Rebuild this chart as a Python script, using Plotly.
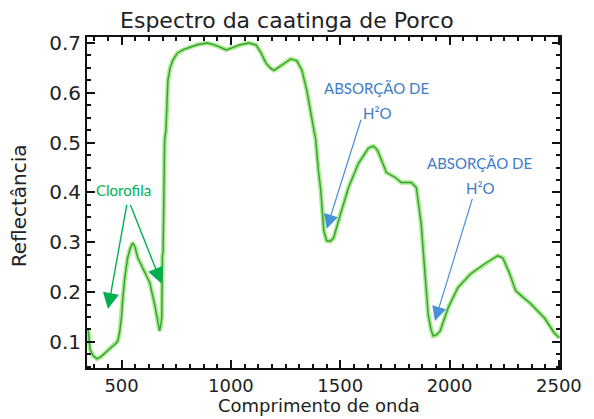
import plotly.graph_objects as go

# Spectrum data (wavelength nm, reflectance)
wavelength = [347, 356, 370, 388, 405, 424, 450, 475, 483, 492, 500, 506, 515, 528, 540, 551,
              562, 574, 597, 615, 629, 651, 665, 674, 680, 684, 687, 690, 697, 703, 712, 722,
              734, 756, 785, 815, 850, 892, 920, 947, 979, 1005, 1038, 1060, 1083, 1115, 1138,
              1160, 1180, 1197, 1215, 1234, 1274, 1302, 1325, 1347, 1370, 1388, 1400, 1411,
              1425, 1438, 1455, 1470, 1502, 1538, 1583, 1629, 1652, 1670, 1684, 1711, 1752,
              1779, 1825, 1848, 1870, 1888, 1902, 1915, 1925, 1940, 1957, 1993, 2038, 2097,
              2161, 2220, 2243, 2275, 2302, 2335, 2370, 2434, 2479, 2502]
reflectance = [0.126, 0.085, 0.072, 0.066, 0.070, 0.078, 0.088, 0.097, 0.102, 0.122, 0.150,
               0.189, 0.229, 0.269, 0.288, 0.299, 0.290, 0.269, 0.249, 0.232, 0.219, 0.176,
               0.140, 0.122, 0.135, 0.150, 0.273, 0.280, 0.505, 0.525, 0.625, 0.650, 0.665,
               0.680, 0.687, 0.692, 0.697, 0.700, 0.697, 0.692, 0.686, 0.690, 0.696, 0.698,
               0.700, 0.696, 0.680, 0.660, 0.650, 0.645, 0.650, 0.656, 0.668, 0.664, 0.645,
               0.605, 0.545, 0.505, 0.445, 0.404, 0.323, 0.303, 0.302, 0.309, 0.358, 0.410,
               0.458, 0.489, 0.493, 0.485, 0.470, 0.440, 0.430, 0.420, 0.420, 0.410, 0.338,
               0.237, 0.156, 0.125, 0.112, 0.114, 0.122, 0.168, 0.209, 0.237, 0.257, 0.273,
               0.269, 0.237, 0.203, 0.190, 0.177, 0.148, 0.118, 0.108]

x_ticks = [500, 1000, 1500, 2000, 2500]
y_ticks = [0.1, 0.2, 0.3, 0.4, 0.5, 0.6, 0.7]

title_text = "Espectro da caatinga de Porco"
x_title = "Comprimento de onda"
y_title = "Reflectância"

green_txt = "#00B050"
blue_txt = "#3D7CC9"
blue_arrow = "#4A8FDB"
ink = "#222222"

fig = go.Figure()
fig.add_trace(go.Scatter(x=wavelength, y=reflectance, mode="lines",
                         line=dict(color="#A6EC8C", width=4.5), hoverinfo="skip",
                         showlegend=False))
fig.add_trace(go.Scatter(x=wavelength, y=reflectance, mode="lines",
                         line=dict(color="#3C9E38", width=1.4), showlegend=False))

axis_common = dict(showgrid=False, zeroline=False, showline=True, linecolor="#111111",
                   linewidth=2, mirror="ticks", ticks="inside", ticklen=8, tickwidth=2,
                   tickcolor="#111111")

# page body has an 8px default margin, so the figure is sized to fit the window
fig.update_layout(
    width=586, height=411,
    margin=dict(l=79, r=31, t=29, b=51),
    paper_bgcolor="white", plot_bgcolor="white",
    title=dict(text=title_text, x=0.476, xanchor="center", y=0.970, yanchor="middle",
               font=dict(family="DejaVu Sans", size=22, color=ink)),
    xaxis=dict(range=[342, 2505], tickvals=x_ticks,
               tickfont=dict(family="DejaVu Sans", size=18, color=ink),
               minor=dict(dtick=62.5, tick0=0, ticks="inside", ticklen=4, tickwidth=1.5,
                          tickcolor="#111111"),
               **axis_common),
    yaxis=dict(range=[0.0477, 0.712], tickvals=y_ticks, tickformat=".1f",
               tickfont=dict(family="DejaVu Sans", size=20, color=ink),
               minor=dict(dtick=0.025, tick0=0, ticks="inside", ticklen=4, tickwidth=1.5,
                          tickcolor="#111111"),
               **axis_common),
)

ann_font_g = dict(family="Lato", size=15, color=green_txt)
ann_font_b = dict(family="Lato", size=15, color=blue_txt)

annotations = [
    dict(x=0.49, y=-0.113, xref="paper", yref="paper", text=x_title, showarrow=False,
         font=dict(family="DejaVu Sans", size=18, color=ink), yanchor="middle"),
    dict(x=-0.145, y=0.49, xref="paper", yref="paper", text=y_title, showarrow=False,
         font=dict(family="DejaVu Sans", size=20, color=ink), textangle=-90,
         xanchor="center"),
    dict(x=511, y=0.404, text="Clorofila", showarrow=False, font=ann_font_g),
    dict(x=438, y=0.166, ax=525, ay=0.378, axref="x", ayref="y", text="", showarrow=True,
         arrowhead=2, arrowsize=2.3, arrowwidth=1.4, arrowcolor=green_txt),
    dict(x=683, y=0.217, ax=538, ay=0.378, axref="x", ayref="y", text="", showarrow=True,
         arrowhead=2, arrowsize=2.3, arrowwidth=1.4, arrowcolor=green_txt),
    dict(x=1666, y=0.609, text="ABSORÇÃO DE", showarrow=False, font=ann_font_b),
    dict(x=1666, y=0.559, text="H²O", showarrow=False, font=ann_font_b),
    dict(x=1438, y=0.327, ax=1597, ay=0.549, axref="x", ayref="y", text="", showarrow=True,
         arrowhead=2, arrowsize=2.4, arrowwidth=1.2, arrowcolor=blue_arrow),
    dict(x=2138, y=0.460, text="ABSORÇÃO DE", showarrow=False, font=ann_font_b),
    dict(x=2138, y=0.408, text="H²O", showarrow=False, font=ann_font_b),
    dict(x=1933, y=0.142, ax=2106, ay=0.39, axref="x", ayref="y", text="", showarrow=True,
         arrowhead=2, arrowsize=2.4, arrowwidth=1.2, arrowcolor=blue_arrow),
]
fig.update_layout(annotations=annotations)

fig.write_html("out.html")
